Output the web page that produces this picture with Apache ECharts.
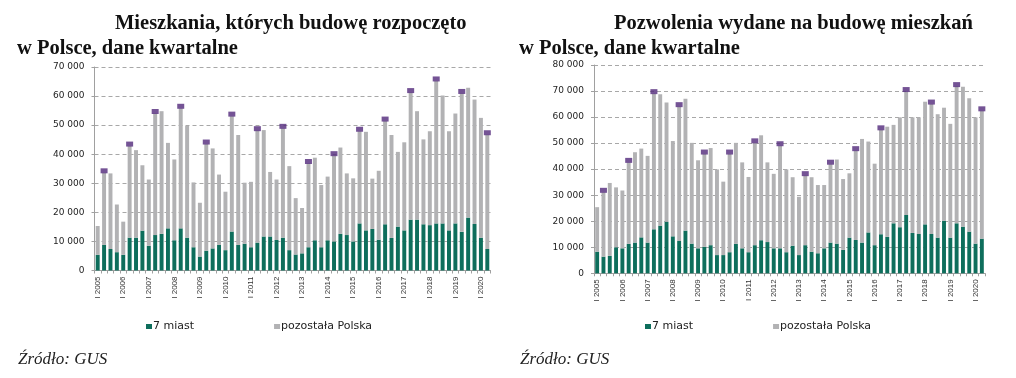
<!DOCTYPE html>
<html><head><meta charset="utf-8">
<script src="https://cdn.jsdelivr.net/npm/echarts@6/dist/echarts.min.js"></script>
<style>html,body{margin:0;padding:0;background:#fff}#c{width:1016px;height:378px}</style>
</head><body><div id="c"></div>
<script>
// quarterly categories I 2005 .. II 2020
const roman = ['I','II','III','IV'];
const categories = [];
for (let y = 2005; y <= 2020; y++) for (let q = 0; q < 4; q++) { if (y === 2020 && q > 1) break; categories.push(roman[q] + ' ' + y); }

// Left chart: dwellings started
const startedCities = [5.4,8.8,7.4,6.3,5.4,11.3,11.3,13.7,8.5,12.2,12.6,14.5,10.4,14.5,11.3,8.0,4.8,6.8,7.6,8.8,7.0,13.4,8.8,9.2,8.0,9.6,11.7,11.7,10.5,11.3,7.0,5.5,5.9,8.0,10.4,8.0,10.4,10.0,12.6,12.2,10.0,16.2,13.8,14.3,10.6,15.9,11.2,15.1,13.8,17.5,17.5,15.9,15.6,16.2,16.2,13.8,16.2,13.3,18.2,16.0,11.3,7.4].map(v=>v*1000);
const startedTotal = [15.3,33.6,33.4,22.7,16.8,42.8,41.4,36.2,31.3,54.0,54.8,43.9,38.2,55.8,49.7,30.3,23.3,43.5,42.0,33.0,27.1,53.1,46.6,30.2,30.5,48.1,48.3,33.9,31.3,48.9,35.9,24.9,21.5,36.8,38.8,29.4,32.3,39.5,42.3,33.4,31.7,47.9,47.7,31.6,34.3,51.4,46.6,40.8,44.1,61.2,54.8,45.1,47.9,65.2,60.2,47.9,54.0,60.9,62.9,58.8,52.5,46.7].map(v=>v*1000);
const startedRest = startedTotal.map((t,i)=>Math.round(t - startedCities[i]));

// Right chart: building permits
const permitsCities = [8.3,6.4,6.7,10.0,9.6,11.3,11.8,13.8,11.8,16.9,18.3,19.8,14.2,12.4,16.4,11.4,9.6,10.2,10.8,7.0,7.0,8.1,11.3,9.6,8.1,10.8,12.7,12.0,9.6,9.6,8.1,10.6,7.0,10.8,8.3,7.7,9.6,11.8,11.4,9.0,13.7,12.8,11.8,15.7,10.8,15.0,14.0,19.2,17.7,22.4,15.5,15.1,18.8,15.1,13.7,20.2,13.7,19.2,17.9,16.0,11.4,13.3].map(v=>v*1000);
const permitsTotal = [25.4,31.1,34.7,33.0,31.8,42.6,46.5,47.9,45.1,69.0,68.8,65.6,50.8,64.0,67.0,50.1,43.4,45.8,48.1,39.9,35.2,45.8,50.1,42.6,37.0,50.1,53.0,42.6,38.2,49.0,39.9,36.9,29.4,37.5,36.9,33.9,33.9,41.9,43.7,36.2,38.4,47.1,51.6,50.6,42.1,55.1,56.3,57.0,59.9,69.8,59.9,59.9,65.9,65.0,61.1,63.6,57.4,71.7,71.6,67.2,59.9,62.4].map(v=>v*1000);
const permitsRest = permitsTotal.map((t,i)=>Math.round(t - permitsCities[i]));

// markers highlight the II quarter of each year
const markerStarted = startedTotal.map((t,i)=> i%4===1 ? t : '-');
const markerPermits = permitsTotal.map((t,i)=> i%4===1 ? t : '-');

const TEAL = '#0e6e5c', GREY = '#b2b2b4', PURPLE = '#51287a';
const fmt = v => v === 0 ? '0' : String(v).replace(/\B(?=(\d{3})+(?!\d))/g, ' ');

function xAx(gi){
  return {type:'category', gridIndex:gi, data:categories,
    axisLine:{show:true,lineStyle:{color:'#a0a0a0',width:1}},
    axisTick:{show:true,interval:0,length:3,lineStyle:{color:'#a0a0a0'}},
    axisLabel:{interval:(i)=>i%4===0, rotate:90, fontSize:8, color:'#333', margin:6, fontFamily:'Liberation Sans'}};
}
function yAx(gi,max){
  return {type:'value', gridIndex:gi, min:0, max:max, interval:10000,
    axisLine:{show:true,lineStyle:{color:'#a0a0a0'}},
    axisTick:{show:true,length:3,inside:false,lineStyle:{color:'#a0a0a0'}},
    axisLabel:{formatter:fmt, fontSize:9, color:'#222', margin:10, fontFamily:'DejaVu Sans'},
    splitLine:{show:true,lineStyle:{color:'#a8a8a8',type:[4,3],width:1}}};
}
const titleStyle = {fontFamily:'Liberation Serif', fontWeight:'bold', fontSize:20.5, color:'#111'};
const srcStyle = {fontFamily:'Liberation Serif', fontStyle:'italic', fontSize:17, color:'#222', fontWeight:'normal'};
const legendText = {fontSize:11, color:'#222', fontFamily:'DejaVu Sans', padding:[0,0,0,-4]};
const chart = echarts.init(document.getElementById('c'));
chart.setOption({
  animation:false,
  backgroundColor:'#fff',
  title:[
    {text:'Mieszkania, których budowę rozpoczęto', left:115, top:13, padding:0, textStyle:titleStyle},
    {text:'w Polsce, dane kwartalne', left:17, top:38, padding:0, textStyle:titleStyle},
    {text:'Pozwolenia wydane na budowę mieszkań', left:614, top:13, padding:0, textStyle:titleStyle},
    {text:'w Polsce, dane kwartalne', left:519, top:38, padding:0, textStyle:titleStyle},
    {text:'Źródło: GUS', left:18, top:351, padding:0, textStyle:srcStyle},
    {text:'Źródło: GUS', left:520, top:351, padding:0, textStyle:srcStyle}
  ],
  legend:[
    {data:['7 miast','pozostała Polska'], left:141, top:316, itemGap:80, itemWidth:6, itemHeight:5, icon:'rect', textStyle:legendText},
    {data:['7 miast','pozostała Polska'], left:640, top:316, itemGap:80, itemWidth:6, itemHeight:5, icon:'rect', textStyle:legendText}
  ],
  grid:[
    {left:94.5, width:396, top:67, height:203.5},
    {left:594, width:391, top:65, height:208.3}
  ],
  xAxis:[xAx(0), xAx(1)],
  yAxis:[yAx(0,70000), yAx(1,80000)],
  series:[
    {name:'7 miast', type:'bar', stack:'a', xAxisIndex:0, yAxisIndex:0, data:startedCities, itemStyle:{color:TEAL}, barWidth:'62%'},
    {name:'pozostała Polska', type:'bar', stack:'a', xAxisIndex:0, yAxisIndex:0, data:startedRest, itemStyle:{color:GREY}, barWidth:'62%'},
    {name:'II kw.', type:'scatter', xAxisIndex:0, yAxisIndex:0, data:markerStarted, symbol:'rect', symbolSize:[7,5], symbolOffset:[0,-2], itemStyle:{color:PURPLE}, z:5},
    {name:'7 miast', type:'bar', stack:'b', xAxisIndex:1, yAxisIndex:1, data:permitsCities, itemStyle:{color:TEAL}, barWidth:'62%'},
    {name:'pozostała Polska', type:'bar', stack:'b', xAxisIndex:1, yAxisIndex:1, data:permitsRest, itemStyle:{color:GREY}, barWidth:'62%'},
    {name:'II kw. ', type:'scatter', xAxisIndex:1, yAxisIndex:1, data:markerPermits, symbol:'rect', symbolSize:[7,5], symbolOffset:[0,-2], itemStyle:{color:PURPLE}, z:5}
  ]
});
</script></body></html>
